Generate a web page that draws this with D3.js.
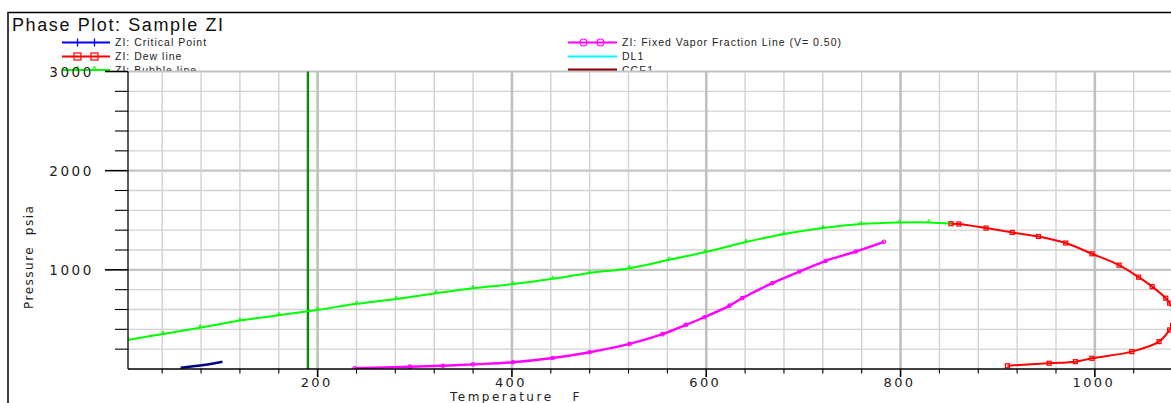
<!DOCTYPE html>
<html><head><meta charset="utf-8">
<script src="https://cdn.jsdelivr.net/npm/d3@7"></script>
<style>
html,body{margin:0;padding:0;background:#fff;overflow:hidden}
svg{display:block}
</style></head>
<body>
<svg id="chart" width="1171" height="403"></svg>
<script>
// ---- data ----
const title = "Phase Plot: Sample ZI";
const xLabel = "Temperature   F";
const yLabel = "Pressure  psia";

const bubbleT = [4.8, 41, 79, 120, 160, 200, 240, 281, 322, 360, 401, 442, 480, 521, 562, 599, 641, 680, 720, 759, 799, 829, 852];
const bubbleP = [293, 354, 417, 488, 542, 596, 657, 707, 765, 815, 856, 909, 967, 1017, 1101, 1179, 1280, 1361, 1421, 1462, 1478, 1478, 1465];

const dewT = [852, 860, 888, 915, 942, 970, 997, 1025, 1045, 1059, 1073, 1077, 1081, 1082, 1080, 1077, 1066, 1038, 997, 980, 953, 910];
const dewP = [1465, 1462, 1421, 1377, 1336, 1270, 1162, 1047, 926, 831, 714, 664, 580, 500, 440, 394, 276, 175, 108, 74, 58, 33];

const vfT = [238, 295, 329, 360, 401, 442, 480, 521, 555, 579, 598, 624, 637, 668, 696, 723, 754, 783];
const vfP = [7, 23, 33, 47, 68, 111, 169, 253, 351, 444, 522, 639, 714, 866, 983, 1091, 1185, 1283];

const critT = [59, 81, 102];
const critP = [13, 37, 74];

const refTemp = [190];

const xTickLabels = [200, 400, 600, 800, 1000];
const yTickLabels = [1000, 2000, 3000];

const legendLeft = ["ZI: Critical Point", "ZI: Dew line", "ZI: Bubble line"];
const legendRight = ["ZI: Fixed Vapor Fraction Line (V= 0.50)", "DL1", "CCE1"];

// ---- drawing ----
const svg = d3.select("#chart");
const W = 1171, H = 403;
const plot = {l: 128, r: 1192, t: 71.5, b: 369};

const x = d3.scaleLinear().domain([4.8, 1100]).range([plot.l, plot.r]);
const y = d3.scaleLinear().domain([0, 3000]).range([plot.b, plot.t]);

svg.append("rect").attr("width", W).attr("height", H).attr("fill", "#fff");

// frame
svg.append("path").attr("d", `M8,${H} V12.5 H${W}`).attr("fill", "none")
  .attr("stroke", "#000").attr("stroke-width", 1.5);

// title
svg.append("text").attr("x", 12).attr("y", 31).text(title)
  .attr("font-family", "Liberation Sans, Arial, sans-serif").attr("font-size", 18)
  .attr("letter-spacing", 1.6).attr("fill", "#111");

// legend
const lgFont = "Liberation Sans, Arial, sans-serif";
const rowsY = [42.5, 56.5, 70];
function legendEntry(g, x0, x1, yy, color, marker, label, width) {
  g.append("line").attr("x1", x0).attr("x2", x1).attr("y1", yy).attr("y2", yy)
    .attr("stroke", color).attr("stroke-width", width || 2.2);
  [x0 + 15.5, x0 + 32.5].forEach(mx => {
    if (marker === "tick") {
      g.append("line").attr("x1", mx).attr("x2", mx).attr("y1", yy - 4).attr("y2", yy + 4)
        .attr("stroke", color).attr("stroke-width", 1.3);
    } else if (marker === "square") {
      g.append("rect").attr("x", mx - 3.5).attr("y", yy - 3.5).attr("width", 7).attr("height", 7)
        .attr("fill", "none").attr("stroke", color).attr("stroke-width", 1.2);
    } else if (marker === "circle") {
      g.append("circle").attr("cx", mx).attr("cy", yy).attr("r", 3.5)
        .attr("fill", "none").attr("stroke", color).attr("stroke-width", 1.2);
    } else if (marker === "tri") {
      g.append("path").attr("d", `M${mx - 2},${yy} L${mx},${yy - 4} L${mx + 2},${yy} Z`)
        .attr("fill", "none").attr("stroke", color).attr("stroke-width", 1);
    }
  });
  g.append("text").attr("x", x1 + 5).attr("y", yy + 3.8).text(label)
    .attr("font-family", lgFont).attr("font-size", 10.5).attr("letter-spacing", 1)
    .attr("fill", "#222");
}
const lg = svg.append("g");
legendEntry(lg, 62, 110, rowsY[0], "#0000ff", "tick", legendLeft[0]);
legendEntry(lg, 62, 110, rowsY[1], "#ff0000", "square", legendLeft[1]);
legendEntry(lg, 62, 110, rowsY[2], "#00ff00", "tri", legendLeft[2]);
legendEntry(lg, 568, 617, rowsY[0], "#ff00ff", "circle", legendRight[0]);
legendEntry(lg, 568, 617, rowsY[1], "#00ffff", "none", legendRight[1]);
legendEntry(lg, 568, 617, rowsY[2], "#8b0000", "none", legendRight[2], 3);

// plot panel covers lower part of legend
svg.append("rect").attr("x", 9).attr("y", plot.t).attr("width", W - 9).attr("height", H - plot.t)
  .attr("fill", "#fff");

// gridlines
const grid = svg.append("g");
const xMinor = d3.range(40, 1100, 40);
const yMinor = d3.range(200, 3001, 200);
yMinor.forEach(v => {
  const major = v % 1000 === 0;
  grid.append("line").attr("x1", plot.l).attr("x2", W).attr("y1", y(v)).attr("y2", y(v))
    .attr("stroke", major ? "#c4c4c4" : "#d2d2d2").attr("stroke-width", major ? 2.2 : 1.4);
});
xMinor.forEach(v => {
  const major = v % 200 === 0;
  grid.append("line").attr("x1", x(v)).attr("x2", x(v)).attr("y1", plot.t).attr("y2", plot.b)
    .attr("stroke", major ? "#c0c0c0" : "#d2d2d2").attr("stroke-width", major ? 2.6 : 1.4);
});

// clip
svg.append("clipPath").attr("id", "clip").append("rect")
  .attr("x", plot.l).attr("y", plot.t - 2).attr("width", plot.r - plot.l).attr("height", plot.b - plot.t + 2);
const curves = svg.append("g").attr("clip-path", "url(#clip)");

// reference temperature line
refTemp.forEach(t => {
  curves.append("line").attr("x1", x(t)).attr("x2", x(t)).attr("y1", plot.t).attr("y2", plot.b)
    .attr("stroke", "#0a8a0a").attr("stroke-width", 2.4);
});

function series(T, P, color, width, marker) {
  const pts = T.map((t, i) => [x(t), y(P[i])]);
  const line = d3.line().curve(d3.curveCatmullRom.alpha(0.5));
  curves.append("path").attr("d", line(pts)).attr("fill", "none")
    .attr("stroke", color).attr("stroke-width", width).attr("stroke-linejoin", "round");
  pts.forEach(p => {
    if (marker === "square") {
      curves.append("rect").attr("x", p[0] - 2).attr("y", p[1] - 2).attr("width", 4).attr("height", 4)
        .attr("fill", "none").attr("stroke", color).attr("stroke-width", 1.2);
    } else if (marker === "circle") {
      curves.append("circle").attr("cx", p[0]).attr("cy", p[1]).attr("r", 1.8)
        .attr("fill", "none").attr("stroke", color).attr("stroke-width", 1.1);
    } else if (marker === "tri") {
      curves.append("path").attr("d", `M${p[0] - 1.5},${p[1]} L${p[0]},${p[1] - 3} L${p[0] + 1.5},${p[1]}`)
        .attr("fill", "none").attr("stroke", color).attr("stroke-width", 1);
    }
  });
}
series(bubbleT, bubbleP, "#00ff00", 2, "tri");
series(dewT, dewP, "#ff0000", 2, "square");
series(vfT, vfP, "#ff00ff", 2.4, "circle");
series(critT, critP, "#000080", 2.6, "none");

// axes
const axFont = "DejaVu Sans, Verdana, sans-serif";
const ax = svg.append("g");
ax.append("line").attr("x1", plot.l).attr("x2", plot.l).attr("y1", plot.t).attr("y2", plot.b)
  .attr("stroke", "#000").attr("stroke-width", 1.3);
ax.append("line").attr("x1", plot.l).attr("x2", W).attr("y1", plot.b).attr("y2", plot.b)
  .attr("stroke", "#000").attr("stroke-width", 1.3);

// y ticks
yMinor.forEach(v => {
  const major = v % 1000 === 0;
  ax.append("line").attr("x1", major ? 105 : 115).attr("x2", plot.l).attr("y1", y(v)).attr("y2", y(v))
    .attr("stroke", "#000").attr("stroke-width", major ? 1.6 : 1.1);
});
yTickLabels.forEach(v => {
  ax.append("text").attr("x", 94).attr("y", y(v) + 5).attr("text-anchor", "end").text(v)
    .attr("font-family", axFont).attr("font-size", 13.5).attr("letter-spacing", 2.6)
    .attr("fill", "#222");
});
// x ticks
xMinor.forEach(v => {
  const major = v % 200 === 0;
  ax.append("line").attr("x1", x(v)).attr("x2", x(v)).attr("y1", plot.b).attr("y2", plot.b + (major ? 8 : 4.5))
    .attr("stroke", "#000").attr("stroke-width", major ? 1.6 : 1.1);
});
xTickLabels.forEach(v => {
  ax.append("text").attr("x", x(v) - 1).attr("y", 386.5).attr("text-anchor", "middle").text(v)
    .attr("font-family", axFont).attr("font-size", 13).attr("letter-spacing", 2.4)
    .attr("fill", "#222");
});

// axis titles
svg.append("text").attr("x", 450).attr("y", 400.5).text(xLabel)
  .attr("font-family", axFont).attr("font-size", 12).attr("letter-spacing", 2.5)
  .style("white-space", "pre").attr("fill", "#222");
svg.append("text").attr("transform", "translate(32.5,309) rotate(-90)").text(yLabel)
  .attr("font-family", axFont).attr("font-size", 12).attr("letter-spacing", 1.5)
  .style("white-space", "pre").attr("fill", "#222");
</script>
</body></html>
